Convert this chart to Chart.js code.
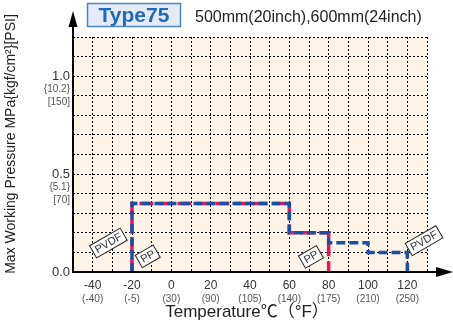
<!DOCTYPE html>
<html><head><meta charset="utf-8">
<script src="https://cdn.jsdelivr.net/npm/chart.js@4/dist/chart.umd.min.js"></script>
<style>
html,body{margin:0;padding:0;background:#fff;}
#wrap{position:relative;width:453px;height:326px;}
canvas{position:absolute;left:0;top:0;}
</style></head>
<body><div id="wrap"><canvas id="c" width="453" height="326"></canvas></div>
<script>
// ---- data ----
const ppTemps = [-20, -20, 60, 60, 80, 80];
const ppPressure = [0, 0.35, 0.35, 0.2, 0.2, 0];
const pvdfTemps = [-20, -20, 60, 60, 80, 80, 100, 100, 120, 120];
const pvdfPressure = [0, 0.35, 0.35, 0.2, 0.2, 0.15, 0.15, 0.1, 0.1, 0];
const xTicksC = [-40, -20, 0, 20, 40, 60, 80, 100, 120];
const xTicksF = ['(-40)', '(-5)', '(30)', '(90)', '(105)', '(140)', '(175)', '(210)', '(250)'];
const yTicksVal = [0, 0.5, 1.0];
const yTicksMPa = ['0.0', '0.5', '1.0'];
const yTicksKgf = ['', '{5.1}', '{10.2}'];
const yTicksPsi = ['', '[70]', '[150]'];
const labelTexts = ['PVDF', 'PP', 'PP', 'PVDF'];
const labelX = [-32, -12, 71, 128.5];
const labelY = [0.148, 0.08, 0.077, 0.16];
const titleText = 'Type75';
const subtitleText = '500mm(20inch),600mm(24inch)';
const xTitle = 'Temperature\u2103\uFF08\u00B0F\uFF09';
const yTitle = 'Max Working Pressure MPa{kgf/cm\u00B2}[PSI]';

const FONT = '"Liberation Sans", Arial, "Noto Sans CJK JP", sans-serif';

const toPts = (xs, ys) => xs.map((x, i) => ({x: x, y: ys[i]}));

const decor = {
  id: 'decor',
  beforeDraw(chart) {
    const {ctx, chartArea: a} = chart;
    ctx.save();
    ctx.fillStyle = '#fdf3e7';
    ctx.fillRect(a.left, a.top, a.right - a.left, a.bottom - a.top);
    ctx.restore();
  },
  afterDraw(chart) {
    const {ctx, chartArea: a, scales} = chart;
    const xs = scales.x, ys = scales.y;
    ctx.save();
    // axes
    ctx.strokeStyle = '#000'; ctx.fillStyle = '#000'; ctx.lineWidth = 2;
    ctx.beginPath(); ctx.moveTo(a.left, a.bottom); ctx.lineTo(a.left, 22); ctx.stroke();
    ctx.beginPath(); ctx.moveTo(a.left, 11); ctx.lineTo(a.left - 4.5, 27); ctx.lineTo(a.left + 4.5, 27); ctx.closePath(); ctx.fill();
    ctx.beginPath(); ctx.moveTo(a.left - 1, a.bottom); ctx.lineTo(440, a.bottom); ctx.stroke();
    ctx.beginPath(); ctx.moveTo(453, a.bottom); ctx.lineTo(436, a.bottom - 5); ctx.lineTo(436, a.bottom + 5); ctx.closePath(); ctx.fill();
    // x tick labels
    ctx.textAlign = 'center'; ctx.textBaseline = 'middle';
    xTicksC.forEach((v, i) => {
      const px = xs.getPixelForValue(v);
      ctx.fillStyle = '#333'; ctx.font = '12px ' + FONT;
      ctx.fillText(String(v), px, a.bottom + 14);
      ctx.fillStyle = '#555'; ctx.font = '10px ' + FONT;
      ctx.fillText(xTicksF[i], px, a.bottom + 27);
    });
    // y tick labels
    ctx.textAlign = 'right';
    yTicksVal.forEach((v, i) => {
      const py = ys.getPixelForValue(v);
      ctx.fillStyle = '#333'; ctx.font = '13px ' + FONT;
      ctx.fillText(yTicksMPa[i], 70, py);
      ctx.fillStyle = '#555'; ctx.font = '10px ' + FONT;
      if (yTicksKgf[i]) ctx.fillText(yTicksKgf[i], 70, py + 13);
      if (yTicksPsi[i]) ctx.fillText(yTicksPsi[i], 70, py + 26);
    });
    // axis titles
    ctx.fillStyle = '#222';
    ctx.textAlign = 'center';
    ctx.font = '17px ' + FONT;
    ctx.fillText(xTitle, 247, 312);
    ctx.save();
    ctx.translate(11, 144); ctx.rotate(-Math.PI / 2);
    ctx.font = '14px ' + FONT;
    ctx.fillText(yTitle, 0, 0);
    ctx.restore();
    // annotation boxes
    labelTexts.forEach((t, i) => {
      const px = xs.getPixelForValue(labelX[i]);
      const py = ys.getPixelForValue(labelY[i]);
      ctx.save();
      ctx.translate(px, py); ctx.rotate(-Math.PI / 6);
      ctx.font = '11px ' + FONT;
      const w = ctx.measureText(t).width + 6, h = 14;
      ctx.fillStyle = '#fff'; ctx.fillRect(-w / 2, -h / 2, w, h);
      ctx.strokeStyle = '#222'; ctx.lineWidth = 1; ctx.strokeRect(-w / 2, -h / 2, w, h);
      ctx.fillStyle = '#333'; ctx.textAlign = 'center'; ctx.textBaseline = 'middle';
      ctx.fillText(t, 0, 0.5);
      ctx.restore();
    });
    // title box
    ctx.fillStyle = '#e6eaf6'; ctx.fillRect(87, 3, 94, 24);
    ctx.strokeStyle = '#4a86c8'; ctx.lineWidth = 1.5; ctx.strokeRect(87.5, 3.5, 93, 23);
    ctx.fillStyle = '#1b6cbc'; ctx.font = 'bold 21px ' + FONT;
    ctx.textAlign = 'center'; ctx.textBaseline = 'middle';
    ctx.fillText(titleText, 134, 16);
    ctx.fillStyle = '#222'; ctx.font = '16px ' + FONT; ctx.textAlign = 'left';
    ctx.fillText(subtitleText, 195, 18);
    ctx.restore();
  }
};

new Chart(document.getElementById('c'), {
  type: 'line',
  data: {
    datasets: [
      {label: 'PVDF', data: toPts(pvdfTemps, pvdfPressure), borderColor: '#1a4fa3', borderWidth: 3.5,
       borderDash: [9, 4], pointRadius: 0, tension: 0, fill: false, borderCapStyle: 'butt', borderJoinStyle: 'miter'},
      {label: 'PP', data: toPts(ppTemps, ppPressure), borderColor: '#e3165a', borderWidth: 3.5,
       borderDash: [14, 5], pointRadius: 0, tension: 0, fill: false, borderCapStyle: 'butt', borderJoinStyle: 'miter'}
    ]
  },
  options: {
    responsive: false, animation: false, devicePixelRatio: 1,
    layout: {padding: {left: 0, top: 37, right: 26, bottom: 0}},
    plugins: {legend: {display: false}, tooltip: {enabled: false}, title: {display: false}},
    scales: {
      x: {type: 'linear', min: -50, max: 130,
          ticks: {stepSize: 10, autoSkip: false, callback: () => '', maxRotation: 0},
          grid: {color: '#000', lineWidth: 1, drawTicks: false},
          border: {display: false, dash: [2, 2]},
          afterFit(s) { s.height = 54; }},
      y: {type: 'linear', min: 0, max: 1.2,
          ticks: {stepSize: 0.1, autoSkip: false, callback: () => ''},
          grid: {color: '#000', lineWidth: 1, drawTicks: false},
          border: {display: false, dash: [2, 2]},
          afterFit(s) { s.width = 73; }}
    }
  },
  plugins: [decor]
});
</script></body></html>
